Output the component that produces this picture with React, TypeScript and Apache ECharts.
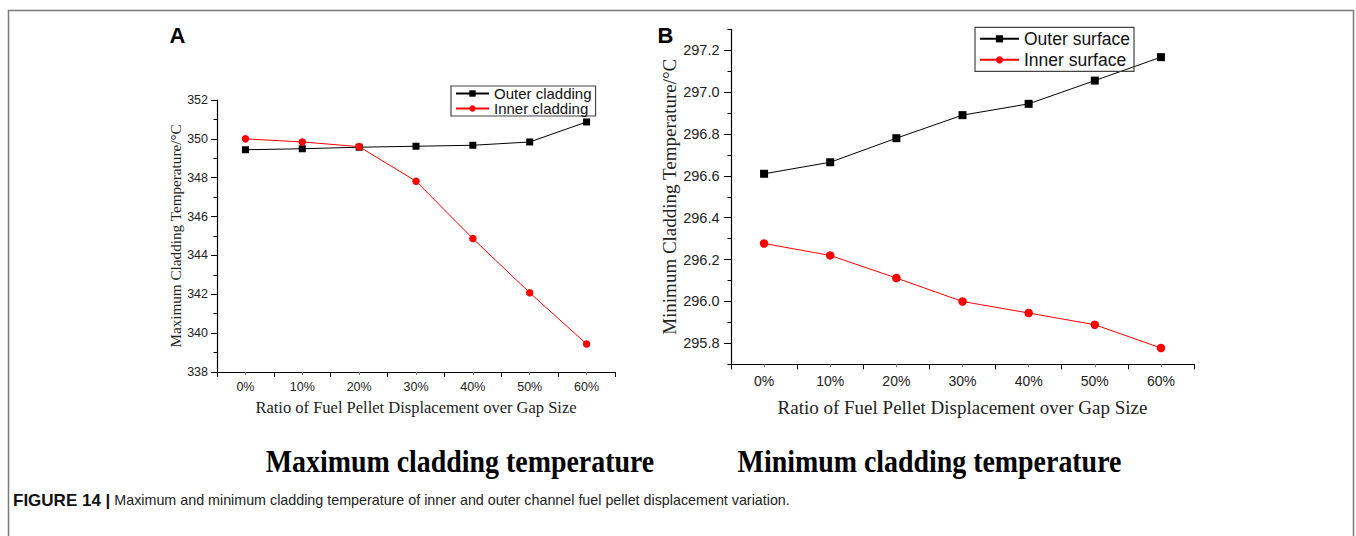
import React, { useEffect, useRef } from "react";
import * as echarts from "echarts";

const categories = ["0%", "10%", "20%", "30%", "40%", "50%", "60%"];
const maxOuter = [349.44, 349.49, 349.57, 349.62, 349.67, 349.84, 350.87];
const maxInner = [350.0, 349.84, 349.6, 347.82, 344.87, 342.08, 339.44];
const minOuter = [296.61, 296.665, 296.78, 296.89, 296.944, 297.055, 297.167];
const minInner = [296.277, 296.22, 296.112, 296.0, 295.945, 295.889, 295.778];
const rightMajorTicks = [295.8, 296.0, 296.2, 296.4, 296.6, 296.8, 297.0, 297.2];

const SANS = "Arial, 'Liberation Sans', sans-serif";
const SERIF = "'Times New Roman', 'Liberation Serif', serif";

export default function App() {
  const ref = useRef<HTMLDivElement>(null);
  useEffect(() => {
    document.body.style.margin = "0";
    const chart = echarts.init(ref.current!, null, { renderer: "svg" });
    const axisLineStyle = { color: "#000", width: 1.2 };
    const option: any = {
      animation: false,
      backgroundColor: "#fff",
      grid: [
        { left: 217, top: 100, width: 398, height: 272, containLabel: false },
        { left: 731, top: 29.3, width: 463, height: 335, containLabel: false },
      ],
      xAxis: [
        {
          type: "category", gridIndex: 0, data: categories, boundaryGap: true, position: "bottom",
          axisLine: { lineStyle: axisLineStyle },
          axisTick: { show: true, length: 5, lineStyle: { color: "#000" } },
          axisLabel: { fontSize: 12.5, color: "#222", fontFamily: SANS, margin: 8 },
          name: "Ratio of Fuel Pellet Displacement over Gap Size", nameLocation: "middle", nameGap: 27,
          nameTextStyle: { fontSize: 16.5, fontFamily: SERIF, color: "#222" },
          splitLine: { show: false },
        },
        {
          type: "category", gridIndex: 0, data: categories, boundaryGap: true, position: "bottom",
          axisLine: { show: false },
          axisTick: { show: true, alignWithLabel: true, length: 3, lineStyle: { color: "#777" } },
          axisLabel: { show: false }, splitLine: { show: false },
        },
        {
          type: "category", gridIndex: 1, data: categories, boundaryGap: true, position: "bottom",
          axisLine: { lineStyle: axisLineStyle },
          axisTick: { show: true, length: 5, lineStyle: { color: "#000" } },
          axisLabel: { fontSize: 14, color: "#222", fontFamily: SANS, margin: 10 },
          name: "Ratio of Fuel Pellet Displacement over Gap Size", nameLocation: "middle", nameGap: 34,
          nameTextStyle: { fontSize: 19, fontFamily: SERIF, color: "#222" },
          splitLine: { show: false },
        },
        {
          type: "category", gridIndex: 1, data: categories, boundaryGap: true, position: "bottom",
          axisLine: { show: false },
          axisTick: { show: true, alignWithLabel: true, length: 3, lineStyle: { color: "#777" } },
          axisLabel: { show: false }, splitLine: { show: false },
        },
      ],
      yAxis: [
        {
          type: "value", gridIndex: 0, min: 338, max: 352, interval: 2, position: "left",
          axisLine: { show: true, lineStyle: axisLineStyle },
          axisTick: { show: true, length: 6, lineStyle: { color: "#000" } },
          minorTick: { show: true, splitNumber: 2, length: 3.5, lineStyle: { color: "#000" } },
          axisLabel: { fontSize: 12.5, color: "#222", fontFamily: SANS, margin: 9 },
          splitLine: { show: false },
          name: "Maximum Cladding Temperature/°C", nameLocation: "middle", nameGap: 33,
          nameTextStyle: { fontSize: 15.2, fontFamily: SERIF, color: "#222" },
        },
        {
          type: "value", gridIndex: 1, min: 295.7, max: 297.3, interval: 0.1, position: "left",
          axisLine: { show: true, lineStyle: axisLineStyle },
          axisTick: { show: true, length: 3.5, lineStyle: { color: "#000" } },
          axisLabel: {
            fontSize: 14.5, color: "#222", fontFamily: SANS, margin: 11.5,
            formatter: (v: number) => {
              const t = Math.round(v * 10);
              return t % 2 === 0 ? (t / 10).toFixed(1) : "";
            },
          },
          splitLine: { show: false },
          name: "Minimum Cladding Temperature/°C", nameLocation: "middle", nameGap: 51,
          nameTextStyle: { fontSize: 19, fontFamily: SERIF, color: "#222" },
        },
        {
          type: "value", gridIndex: 1, min: 295.7, max: 297.3, interval: 0.1, position: "left",
          axisLine: { show: false },
          axisTick: { show: true, length: 7, customValues: rightMajorTicks, lineStyle: { color: "#000" } },
          axisLabel: { show: false, customValues: rightMajorTicks },
          splitLine: { show: false },
        },
      ],
      legend: [
        {
          data: ["Outer cladding", "Inner cladding"], orient: "vertical", left: 451, top: 86,
          itemWidth: 33, itemHeight: 8, itemGap: 0, padding: [0, 4, 0, 4],
          borderColor: "#444", borderWidth: 1.2, selectedMode: false,
          textStyle: { fontSize: 15, fontFamily: SANS, color: "#111" },
        },
        {
          data: ["Outer surface", "Inner surface"], orient: "vertical", left: 975, top: 27.3,
          itemWidth: 39, itemHeight: 9, itemGap: 2, padding: [2, 4, 2, 4],
          borderColor: "#444", borderWidth: 1.2, selectedMode: false,
          textStyle: { fontSize: 17.5, fontFamily: SANS, color: "#111", lineHeight: 19 },
        },
      ],
      series: [
        {
          name: "Outer cladding", type: "line", xAxisIndex: 0, yAxisIndex: 0, data: maxOuter,
          symbol: "rect", symbolSize: 7, itemStyle: { color: "#000" }, lineStyle: { color: "#000", width: 1 },
        },
        {
          name: "Inner cladding", type: "line", xAxisIndex: 0, yAxisIndex: 0, data: maxInner,
          symbol: "circle", symbolSize: 7.5, itemStyle: { color: "#ff0000" }, lineStyle: { color: "#ff0000", width: 1 },
        },
        {
          name: "Outer surface", type: "line", xAxisIndex: 2, yAxisIndex: 1, data: minOuter,
          symbol: "rect", symbolSize: 8, itemStyle: { color: "#000" }, lineStyle: { color: "#000", width: 1 },
        },
        {
          name: "Inner surface", type: "line", xAxisIndex: 2, yAxisIndex: 1, data: minInner,
          symbol: "circle", symbolSize: 8.5, itemStyle: { color: "#ff0000" }, lineStyle: { color: "#ff0000", width: 1 },
        },
      ],
      graphic: [
        {
          type: "polyline", silent: true,
          shape: { points: [[8.5, 536], [8.5, 10.5], [1353.5, 10.5], [1353.5, 536]] },
          style: { stroke: "#7a7a7a", lineWidth: 1.5, fill: "none" },
        },
        {
          type: "text", x: 177.5, y: 35,
          style: { text: "A", font: `bold 22px ${SANS}`, fill: "#000", textAlign: "center", textVerticalAlign: "middle" },
        },
        {
          type: "text", x: 665.5, y: 35.5,
          style: { text: "B", font: `bold 22px ${SANS}`, fill: "#000", textAlign: "center", textVerticalAlign: "middle" },
        },
        {
          type: "text", x: 460, y: 461, scaleX: 0.9,
          style: { text: "Maximum cladding temperature", font: `bold 31px ${SERIF}`, fill: "#000", textAlign: "center", textVerticalAlign: "middle" },
        },
        {
          type: "text", x: 929.5, y: 461, scaleX: 0.9,
          style: { text: "Minimum cladding temperature", font: `bold 31px ${SERIF}`, fill: "#000", textAlign: "center", textVerticalAlign: "middle" },
        },
        {
          type: "text", x: 13, y: 500,
          style: {
            text: "{b|FIGURE 14 |} {r|Maximum and minimum cladding temperature of inner and outer channel fuel pellet displacement variation.}",
            textVerticalAlign: "middle",
            rich: {
              b: { fontWeight: "bold", fontSize: 17, fontFamily: SANS, fill: "#111" },
              r: { fontSize: 14.3, fontFamily: SANS, fill: "#222" },
            },
            fill: "#222", font: `14.3px ${SANS}`,
          },
        },
      ],
    };
    chart.setOption(option);
    return () => chart.dispose();
  }, []);
  return <div ref={ref} style={{ width: 1356, height: 536 }} />;
}
